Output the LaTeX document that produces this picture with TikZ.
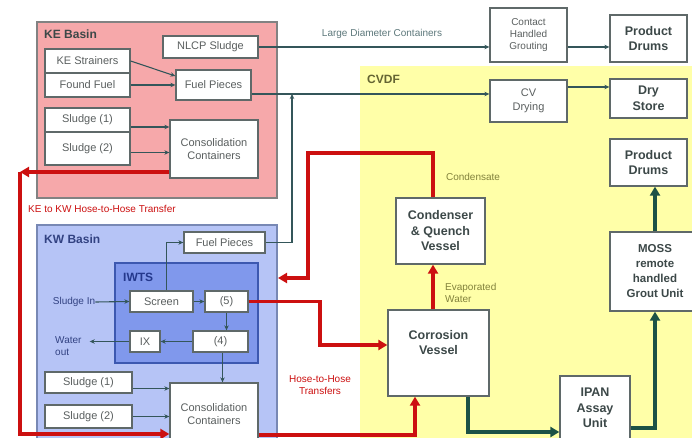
\documentclass[tikz,border=0pt]{standalone}
\usepackage{fontspec}
\setmainfont{Liberation Sans}
\usetikzlibrary{arrows.meta}
\definecolor{kefill}{RGB}{246,168,170}
\definecolor{keborder}{RGB}{130,130,130}
\definecolor{kwfill}{RGB}{182,196,246}
\definecolor{kwborder}{RGB}{120,136,180}
\definecolor{iwfill}{RGB}{128,152,236}
\definecolor{iwborder}{RGB}{60,88,176}
\definecolor{cvfill}{RGB}{255,255,168}
\definecolor{boxc}{RGB}{95,105,105}
\definecolor{txtc}{RGB}{90,95,95}
\definecolor{btxt}{RGB}{60,72,72}
\definecolor{connc}{RGB}{52,86,90}
\definecolor{redc}{RGB}{204,16,16}
\definecolor{grnc}{RGB}{28,82,70}
\definecolor{olivec}{RGB}{130,130,60}
\definecolor{kwlab}{RGB}{50,66,130}
\definecolor{iwlab}{RGB}{36,56,140}
\definecolor{cvlab}{RGB}{100,100,50}
\tikzset{
  region/.style={draw, line width=2pt, inner sep=0pt},
  reglabel/.style={anchor=west, font=\bfseries\fontsize{12}{14}\selectfont, inner sep=0pt},
  box/.style={draw=boxc, line width=1.3pt, fill=white, inner sep=1pt, align=center,
    font=\fontsize{11}{13}\selectfont, text=txtc},
  bbox/.style={box, font=\bfseries\fontsize{12.5}{15.5}\selectfont, text=btxt},
  lbl/.style={inner sep=0pt, font=\fontsize{10}{12}\selectfont},
  conn/.style={draw=connc, line width=1.1pt, -{Stealth[length=5pt,width=4.5pt]}},
  redflow/.style={draw=redc, line width=3.8pt, -{Triangle[length=9pt,width=10pt]}},
  grnflow/.style={draw=grnc, line width=3.8pt, -{Triangle[length=9pt,width=10pt]}},
}
\begin{document}
\begin{tikzpicture}[x=1pt,y=-1pt]
\useasboundingbox (0,0) rectangle (692,438);
\clip (0,0) rectangle (692,438);
\fill[white] (0,0) rectangle (692,438);

% regions
\node[region, draw=none, fill=cvfill, minimum width=340pt, minimum height=384pt] (cvdf) at (530,258) {};
\node[region, draw=keborder, fill=kefill, minimum width=240pt, minimum height=176pt] (keb) at (157,110) {};
\node[region, draw=kwborder, fill=kwfill, minimum width=240pt, minimum height=235pt] (kwb) at (157,342.5) {};
\node[region, line width=1.5pt, draw=iwborder, fill=iwfill, minimum width=143pt, minimum height=100pt] (iwts) at (186.5,313) {};

\node[reglabel, text=btxt] (kelab) at (44,34) {KE Basin};
\node[reglabel, text=kwlab] (kwlab) at (44,239) {KW Basin};
\node[reglabel, text=iwlab] (iwlab) at (123,277) {IWTS};
\node[reglabel, text=cvlab] (cvlab) at (367,79) {CVDF};

% KE basin boxes
\node[box, minimum width=95pt, minimum height=22pt] (nlcp) at (210.5,47) {NLCP Sludge};
\node[box, minimum width=85pt, minimum height=24pt] (kestr) at (87.5,61) {KE Strainers};
\node[box, minimum width=85pt, minimum height=24pt] (ffuel) at (87.5,85) {Found Fuel};
\node[box, minimum width=75pt, minimum height=30pt] (kefp) at (213.5,85) {Fuel Pieces};
\node[box, minimum width=85pt, minimum height=24pt] (kes1) at (87.5,120) {Sludge (1)};
\node[box, minimum width=85pt, minimum height=33pt] (kes2) at (87.5,148.5) {Sludge (2)};
\node[box, minimum width=88pt, minimum height=58pt] (kecc) at (214,149) {Consolidation\\Containers};

% KW basin boxes
\node[box, minimum width=81pt, minimum height=21pt] (kwfp) at (224.5,242.5) {Fuel Pieces};
\node[box, minimum width=63pt, minimum height=21pt] (screen) at (161.5,301.5) {Screen};
\node[box, minimum width=43pt, minimum height=21pt] (p5) at (226.5,301.5) {(5)};
\node[box, minimum width=30pt, minimum height=21pt] (ix) at (145,341.5) {IX};
\node[box, minimum width=55pt, minimum height=21pt] (p4) at (220.5,341.5) {(4)};
\node[box, minimum width=87pt, minimum height=21pt] (kws1) at (88.5,382.5) {Sludge (1)};
\node[box, minimum width=87pt, minimum height=23pt] (kws2) at (88.5,416.5) {Sludge (2)};
\node[box, minimum width=88pt, minimum height=62pt] (kwcc) at (214,414) {Consolidation\\Containers};
\node[lbl, text=kwlab] (sin) at (74,302) {Sludge In};
\node[lbl, text=kwlab, align=left, anchor=west] (wout) at (55,346) {Water\\out};

% CVDF and outside boxes
\node[box, font=\fontsize{10}{12}\selectfont, minimum width=77pt, minimum height=54pt] (chg) at (528.5,35) {Contact\\Handled\\Grouting};
\node[bbox, minimum width=77pt, minimum height=47pt] (pd1) at (648.5,38.5) {Product\\Drums};
\node[box, font=\fontsize{11}{13.5}\selectfont, minimum width=77pt, minimum height=42pt] (cvd) at (528.5,101) {CV\\Drying};
\node[bbox, minimum width=77pt, minimum height=39pt] (dry) at (648.5,98.5) {Dry\\Store};
\node[bbox, minimum width=77pt, minimum height=47pt] (pd2) at (648.5,162.5) {Product\\Drums};
\node[bbox, minimum width=89pt, minimum height=66pt] (cond) at (440.5,231) {Condenser\\\& Quench\\Vessel};
\node[bbox, minimum width=101pt, minimum height=86pt] (cv) at (438.5,353) {Corrosion\\Vessel\\[6pt]};
\node[bbox, minimum width=70pt, minimum height=64pt] (ipan) at (595,408) {IPAN\\Assay\\Unit};
\node[bbox, font=\bfseries\fontsize{11.5}{15}\selectfont, minimum width=90pt, minimum height=79pt] (moss) at (655,271.5) {MOSS\\remote\\handled\\Grout Unit};

% text labels
\node[lbl, text=connc!80] (ldc) at (382,34) {Large Diameter Containers};
\node[lbl, text=olivec] (cdl) at (473,177) {Condensate};
\node[lbl, text=olivec, align=left, anchor=west] (evl) at (445,293) {Evaporated\\Water};
\node[lbl, text=redc, align=center] (hhl) at (320,385) {Hose-to-Hose\\Transfers};
\node[lbl, text=redc, anchor=west] (kekw) at (28,209) {KE to KW Hose-to-Hose Transfer};

% coordinates
\coordinate (j1) at (292,94);
\coordinate (rk) at (20,172);
\coordinate (rb) at (20,434);
\coordinate (rx) at (433,250);
\coordinate (rt) at (308,153);
\coordinate (rl) at (308,278);
\coordinate (r2) at (320,345);
\coordinate (r3) at (415,435);
\coordinate (g1) at (468,432);
\coordinate (g2) at (655,428);

% thin connectors
\draw[conn] (kestr.east) -- ([yshift=9pt]kefp.west);
\draw[conn] (ffuel.east) -- (ffuel.east -| kefp.west);
\draw[conn] ([yshift=-7pt]kes1.east) -- ([yshift=-7pt]kes1.east -| kecc.west);
\draw[conn] ([yshift=-4pt]kes2.east) -- ([yshift=-4pt]kes2.east -| kecc.west);
\draw[conn] (nlcp.east) -- (nlcp.east -| chg.west);
\draw[conn] (kefp.east |- j1) -- (j1 -| cvd.west);
\draw[conn] (kwfp.east) -| (j1);
\draw[conn] ([yshift=-12pt]chg.east) -- ([yshift=-12pt]chg.east -| pd1.west);
\draw[conn] ([yshift=14pt]cvd.east) -- ([yshift=14pt]cvd.east -| dry.west);
\draw[conn] (sin.east) -- (screen.west);
\draw[conn] ([xshift=5pt]screen.north) |- (kwfp.west);
\draw[conn] (screen.east) -- (p5.west);
\draw[conn] (p5.south) -- (p5.south |- p4.north);
\draw[conn] (p4.west) -- (ix.east);
\draw[conn] (ix.west) -- ([xshift=8pt]ix.west -| wout.east);
\draw[conn, line width=1.6pt] ([xshift=2pt]p4.south) -- ([xshift=2pt]p4.south |- kwcc.north);
\draw[conn] ([yshift=-6pt]kws1.east) -- ([yshift=-6pt]kws1.east -| kwcc.west);
\draw[conn] (kws2.east) -- (kws2.east -| kwcc.west);

% red flows
\draw[redflow] (kecc.west |- rk) -- (rk);
\draw[redflow] (rk) -- (rb) -- (rb -| kwcc.west);
\draw[redflow] (rx |- cond.north) |- (rt) -- (rl) -- (rl -| kwb.east);
\draw[redflow] (rx |- cv.north) -- (rx |- cond.south);
\draw[redflow] (p5.east) -| (r2) -- (r2 -| cv.west);
\draw[redflow] (r3 -| kwcc.east) -- (r3) -- (r3 |- cv.south);

% green flows
\draw[grnflow] (g1 |- cv.south) -- (g1) -- (g1 -| ipan.west);
\draw[grnflow] (ipan.east |- g2) -- (g2) -- (g2 |- moss.south);
\draw[grnflow] (moss.north -| g2) -- (g2 |- pd2.south);
\end{tikzpicture}
\end{document}
